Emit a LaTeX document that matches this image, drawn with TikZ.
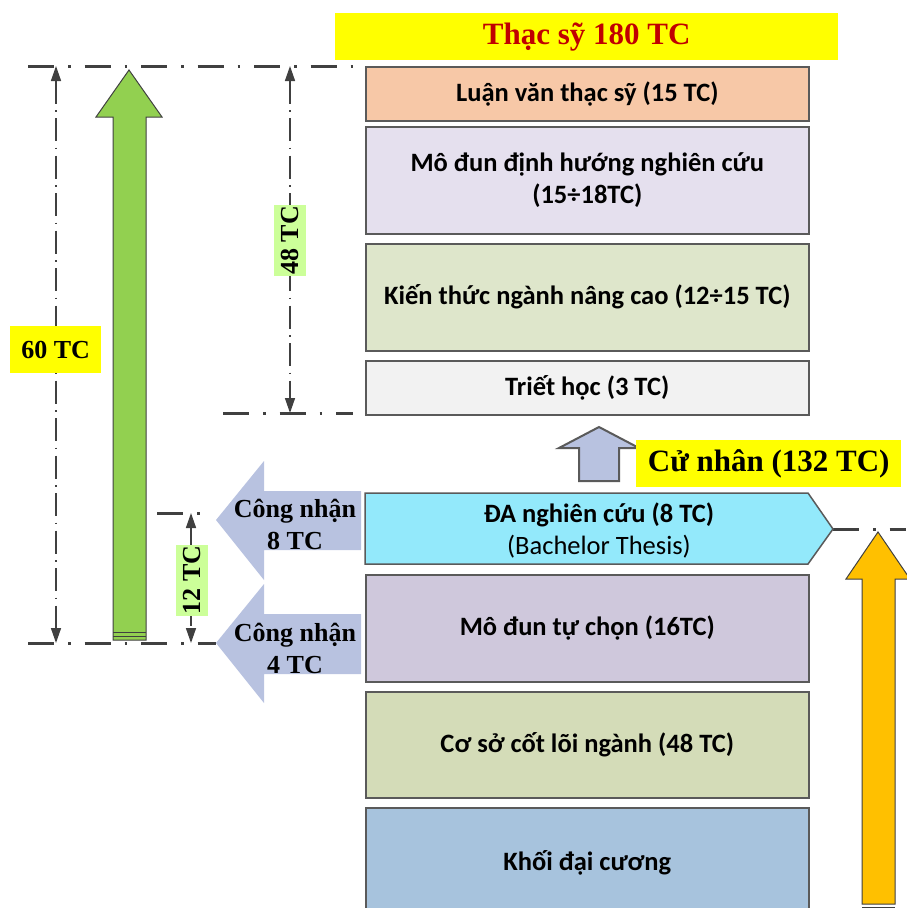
\documentclass[tikz,border=0pt]{standalone}
\usepackage{fontspec}
\setmainfont{Liberation Serif}
\newfontfamily\carlito{Carlito}
\usetikzlibrary{arrows.meta}
\newcommand\boxfont{\carlito\bfseries\fontsize{26.5}{32}\selectfont}
\newcommand\bigserif{\bfseries\fontsize{31}{37}\selectfont}
\newcommand\labserif{\bfseries\fontsize{26}{32}\selectfont}
\definecolor{borderg}{HTML}{5A5A5A}
\definecolor{dimg}{HTML}{404040}
\definecolor{yel}{HTML}{FFFF00}
\definecolor{labgreen}{HTML}{CCFF99}
\definecolor{lav}{HTML}{B8C2E0}
\definecolor{garrow}{HTML}{92D050}
\definecolor{oarrow}{HTML}{FFC000}
\definecolor{titlered}{HTML}{C00000}
\definecolor{cA}{HTML}{F7C8A7}
\definecolor{cB}{HTML}{E5E0EE}
\definecolor{cC}{HTML}{DEE6CB}
\definecolor{cD}{HTML}{F2F2F2}
\definecolor{cE}{HTML}{93E9FB}
\definecolor{cF}{HTML}{CFC8DC}
\definecolor{cG}{HTML}{D4DCB8}
\definecolor{cH}{HTML}{A7C3DD}
\tikzset{
  blk/.style={draw=borderg, line width=1.5pt, rectangle, minimum width=443pt, anchor=north west, inner sep=0pt, font=\boxfont, align=center},
  bline/.style={draw=borderg, line width=1.5pt, line join=miter},
  arrline/.style={draw=dimg, line width=1pt, line join=miter},
  yellab/.style={fill=yel, inner sep=0pt, anchor=north west},
  greenlab/.style={fill=labgreen, inner sep=0pt, rotate=90, minimum width=71pt, minimum height=32pt, font=\labserif},
  hdash/.style={draw=dimg, line width=3pt, dash pattern=on 26pt off 14pt on 2.5pt off 14pt},
  dimline/.style={draw=dimg, line width=1.5pt, dash pattern=on 23pt off 6.5pt on 1.5pt off 6.5pt,
    {Triangle[width=10pt,length=15pt]}-{Triangle[width=10pt,length=15pt]}},
  cnfont/.style={font=\labserif, align=center, inner sep=0pt}
}
\begin{document}
\begin{tikzpicture}[x=1pt,y=-1pt]
\useasboundingbox (0,0) rectangle (906,908);
% coordinates
\coordinate (hTopL) at (28,66);
\coordinate (hTopR) at (353,66);
\coordinate (h48L) at (223,413);
\coordinate (h48R) at (353,413);
\coordinate (h12L) at (157,513);
\coordinate (h12R) at (212,513);
\coordinate (hBotL) at (28,643);
\coordinate (hBotR) at (216,643);
\coordinate (hCnL) at (833,529);
\coordinate (hCnR) at (906,529);
\coordinate (d60t) at (56,66);
\coordinate (d60b) at (56,643);
\coordinate (d48t) at (290,66);
\coordinate (d48b) at (290,413);
\coordinate (d12t) at (191,513);
\coordinate (d12b) at (191,643);
% dash lines
\draw[hdash] (hTopL) -- (hTopR);
\draw[hdash] (h48L) -- (h48R);
\draw[hdash] (h12L) -- (h12R);
\draw[hdash] (hBotL) -- (hBotR);
\draw[hdash] (hCnL) -- (hCnR);
% dimension lines
\draw[dimline] (d60t) -- (d60b);
\draw[dimline] (d48t) -- (d48b);
\draw[dimline] (d12t) -- (d12b);
% labels
\node[yellab, minimum width=503pt, minimum height=47pt, text=titlered, font=\bigserif] (title) at (335,13) {Thạc sỹ 180 TC};
\node[yellab, minimum width=91pt, minimum height=47pt, font=\labserif] (l60) at (10,326) {60 TC};
\node[greenlab] (l48) at (290,240.5) {48 TC};
\node[greenlab] (l12) at (192,580) {12 TC};
% master blocks
\node[blk, fill=cA, minimum height=54pt] (luan) at (365,66) {Luận văn thạc sỹ (15 TC)};
\node[blk, fill=cB, minimum height=107pt] (modun) at (365,126) {Mô đun định hướng nghiên cứu\\(15÷18TC)};
\node[blk, fill=cC, minimum height=107pt] (kien) at (365,243) {Kiến thức ngành nâng cao (12÷15 TC)};
\node[blk, fill=cD, minimum height=54pt] (triet) at (365,360) {Triết học (3 TC)};
% small up arrow
\draw[bline, line width=2pt, fill=lav] (579,481) -- (579,448) -- (559,448) -- (599,427) -- (639,448) -- (619,448) -- (619,481) -- cycle;
\node[yellab, minimum width=265pt, minimum height=47pt, font=\bigserif] (cn) at (636,440) {Cử nhân (132 TC)};
% bachelor blocks
\draw[bline, fill=cE] (365,493) -- (808,493) -- (833,529) -- (808,564) -- (365,564) -- cycle;
\node[font=\boxfont, align=center, inner sep=0pt] (da) at (599,530) {ĐA nghiên cứu (8 TC)\\{\mdseries (Bachelor Thesis)}};
\node[blk, fill=cF, minimum height=107pt] (tuchon) at (365,574) {Mô đun tự chọn (16TC)};
\node[blk, fill=cG, minimum height=106pt] (coso) at (365,691) {Cơ sở cốt lõi ngành (48 TC)};
\node[blk, fill=cH, minimum height=110pt] (khoi) at (365,807) {Khối đại cương};
% recognition arrows
\fill[lav] (361,491) -- (264,491) -- (264,461) -- (216,520) -- (264,580) -- (264,550) -- (361,550) -- cycle;
\node[cnfont] (cn8) at (295,524) {Công nhận\\8 TC};
\fill[lav] (361,614) -- (264,614) -- (264,584) -- (216,643) -- (264,703) -- (264,674) -- (361,674) -- cycle;
\node[cnfont] (cn4) at (295,648) {Công nhận\\4 TC};
% green arrow
\draw[arrline, fill=garrow] (113,640) -- (113,117) -- (96,117) -- (129,70) -- (162,117) -- (146,117) -- (146,640) -- cycle;
\draw[arrline] (113,632) -- (146,632);
\draw[arrline] (113,636) -- (146,636);
% orange arrow
\draw[arrline, fill=oarrow] (862,904) -- (862,579) -- (846,579) -- (878,532) -- (910,579) -- (895,579) -- (895,904) -- cycle;
\draw[arrline] (862,907) -- (895,907);
\end{tikzpicture}
\end{document}
